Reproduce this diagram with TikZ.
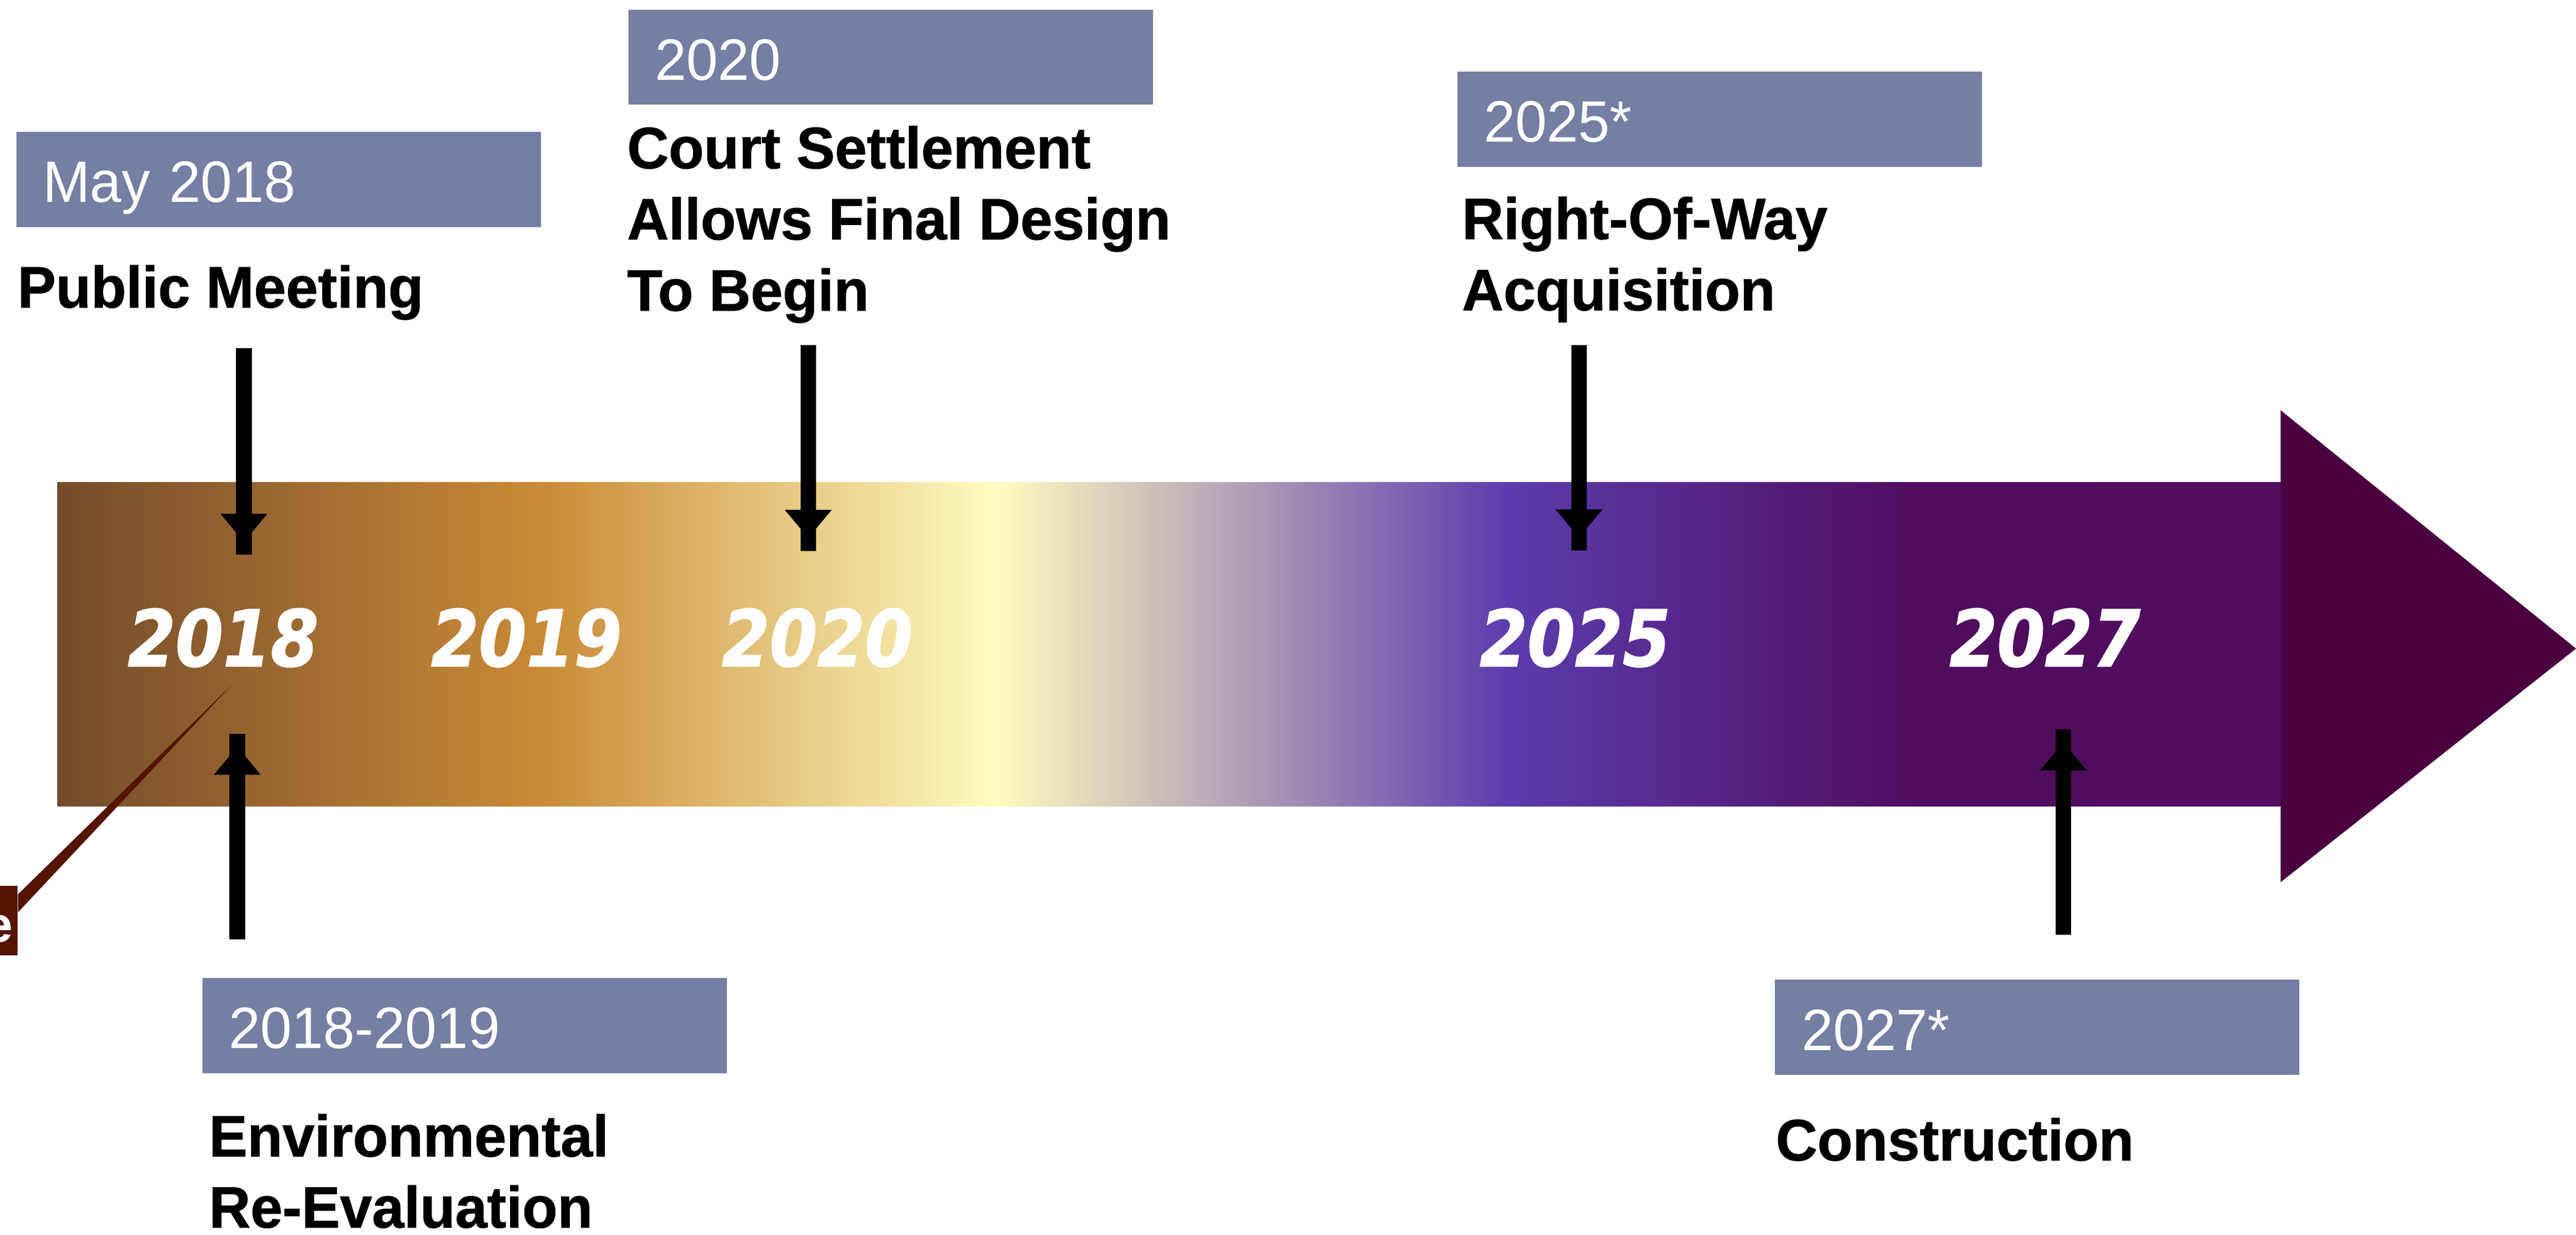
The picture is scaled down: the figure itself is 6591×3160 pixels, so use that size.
\documentclass[tikz,border=0pt]{standalone}
\usepackage{fontspec}
\setmainfont{Liberation Sans}
\newfontfamily\tagfont[FakeStretch=0.97]{Liberation Sans}
\newfontfamily\milefont[FakeBold=1, FakeStretch=0.985]{Liberation Sans}
\newfontfamily\yearfont[FakeStretch=0.88, FakeBold=1.5]{DejaVu Sans}
\usetikzlibrary{arrows.meta}
\definecolor{tagblue}{HTML}{757EA3}
\definecolor{tipplum}{HTML}{4A003F}
\definecolor{calloutbrown}{HTML}{541400}
\definecolor{bandA}{HTML}{734B2B}
\definecolor{bandB}{HTML}{C98A36}
\definecolor{bandC}{HTML}{FEFCC0}
\definecolor{bandD}{HTML}{5C3CAD}
\definecolor{bandE}{HTML}{4F0D5E}
\definecolor{bandF}{HTML}{500E5F}
\pgfdeclarehorizontalshading{band}{100bp}{color(0bp)=(bandA); color(25bp)=(bandA); color(35.8bp)=(bandB); color(46.1bp)=(bandC); color(57.6bp)=(bandD); color(66.75bp)=(bandE); color(75bp)=(bandF); color(100bp)=(bandF)}
\def\pointer(#1)(#2){\draw[shaft] (#1) -- (#2); \draw[shaft, tiphead] (#1) -- (#2);}
\tikzset{
	shaft/.style={line width=0.4cm},
	tiphead/.style={-{Triangle[length=0.72cm,width=1.2cm,line width=0pt]}, shorten >=0.33cm},
	tag/.style={fill=tagblue, text=white, font=\fontsize{42.5}{51}\selectfont\tagfont, anchor=north west, inner xsep=0.68cm, inner ysep=0pt, text width=12.05cm, align=left, text height=1.8cm, text depth=0.63cm},
	milestone/.style={font=\fontsize{42.5}{51.8}\selectfont\milefont\bfseries, anchor=base west, inner sep=0pt, align=left},
	yearmark/.style={font=\fontsize{56.6}{60}\selectfont\yearfont\bfseries\itshape, text=white, anchor=base, inner sep=0pt}
}

\begin{document}
\begin{tikzpicture}[x=0.01cm, y=-0.01cm]
			%%%%% START %%%%%
			\useasboundingbox (0, 0) rectangle (6591, 3160);
			
			\shade[shading=band] (147, 1235) rectangle (5835, 2064);
			\fill[tipplum] (5835, 1050) -- (6591, 1660) -- (5835, 2258) -- cycle;
			
			\node[yearmark] (y18) at (571, 1705) {2018};
			\node[yearmark] (y19) at (1347, 1705) {2019};
			\node[yearmark] (y20) at (2091, 1705) {2020};
			\node[yearmark] (y25) at (4030, 1705) {2025};
			\node[yearmark] (y27) at (5232, 1705) {2027};
			
			\node[tag] (tag18) at (41, 337) {May 2018};
			\node[tag] (tag20) at (1607, 24) {2020};
			\node[tag] (tag25) at (3728, 183) {2025*};
			\node[tag] (tag1819) at (517, 2503) {2018-2019};
			\node[tag] (tag27) at (4541, 2507) {2027*};
			
			% multi-line nodes sit on their last baseline
			\node[milestone] (pm) at (44, 787) {Public Meeting};
			\node[milestone] (court) at (1604, 795) {Court Settlement\\Allows Final Design\\To Begin};
			\node[milestone] (row) at (3740, 794) {Right-Of-Way\\Acquisition};
			\node[milestone] (env) at (534, 3142) {Environmental\\Re-Evaluation};
			\node[milestone] (con) at (4543, 2970) {Construction};
			
			\coordinate (a18s) at (624, 891);   \coordinate (a18e) at (624, 1420);
			\coordinate (a1819s) at (607, 2404); \coordinate (a1819e) at (607, 1878);
			\coordinate (a20s) at (2068, 883);  \coordinate (a20e) at (2068, 1410);
			\coordinate (a25s) at (4040, 883);  \coordinate (a25e) at (4040, 1409);
			\coordinate (a27s) at (5279, 2393); \coordinate (a27e) at (5279, 1867);
			\pointer(a18s)(a18e)
			\pointer(a1819s)(a1819e)
			\pointer(a20s)(a20e)
			\pointer(a25s)(a25e)
			\pointer(a27s)(a27e)
			
			\node[fill=calloutbrown, text=white, font=\fontsize{35.6}{40}\selectfont\milefont\bfseries, anchor=north east, inner xsep=0.14cm, inner ysep=0pt, text width=2.3cm, align=right, text height=1.42cm, text depth=0.36cm] (cbox) at (46, 2267) {e};
			\coordinate (cpoint) at (593, 1753);
			\fill[calloutbrown] ([yshift=-0.22cm]cbox.north east) -- (cpoint) -- ([yshift=-0.68cm]cbox.north east) -- cycle;
			%%%%% END %%%%%
\end{tikzpicture}
\end{document}
